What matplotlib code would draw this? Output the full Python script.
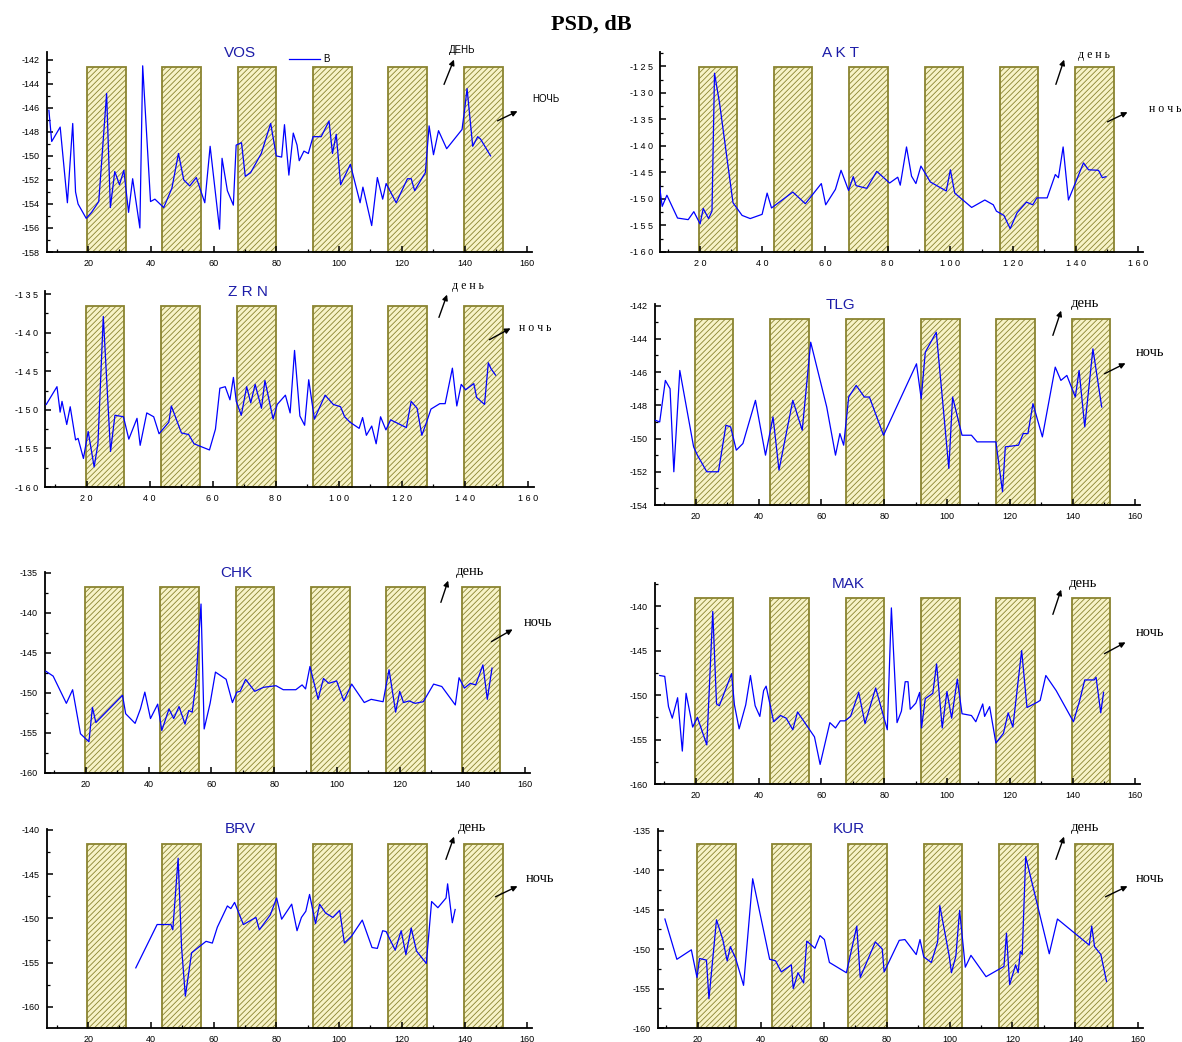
import matplotlib
matplotlib.use("Agg")
import matplotlib.pyplot as plt
from matplotlib.patches import Rectangle, FancyArrowPatch
from matplotlib.ticker import MultipleLocator, FixedLocator
import numpy as np

plt.rcParams['axes.unicode_minus'] = False
plt.rcParams['hatch.linewidth'] = 0.6

# ---------------- data ----------------
day_start = [19.7, 43.6, 67.7, 91.8, 115.7, 139.8]
day_width = 12.3

vos_x = [7.5, 8.4, 11.1, 13.4, 15.1, 16.0, 16.8, 19.4, 21.1, 23.4,
         25.9, 27.1, 28.5, 30.0, 31.4, 32.9, 34.2, 36.5, 37.4, 39.9,
         41.3, 44.1, 46.7, 48.8, 50.5, 52.4, 54.5, 57.2, 58.9, 61.9,
         62.7, 64.4, 66.3, 67.2, 68.9, 70.1, 71.8, 75.2, 78.2, 80.0,
         81.7, 82.6, 84.0, 85.4, 86.6, 87.3, 88.8, 90.2, 91.7, 94.3,
         96.8, 97.9, 99.1, 100.5, 103.6, 106.7, 107.6, 110.4, 112.2, 113.9,
         115.0, 118.2, 121.8, 123.0, 124.1, 127.0, 127.5, 128.7, 130.1, 131.7,
         134.3, 139.2, 140.0, 140.8, 142.6, 144.2, 145.1, 148.3]
vos_y = [-146.2, -148.8, -147.6, -153.9, -147.3, -153.0, -154.0, -155.2, -154.7, -153.8,
         -144.8, -154.3, -151.3, -152.4, -151.2, -154.7, -151.9, -156.0, -142.5, -153.8,
         -153.6, -154.3, -152.7, -149.8, -152.0, -152.5, -151.8, -153.9, -149.2, -156.1,
         -150.2, -152.9, -154.1, -149.1, -148.9, -151.7, -151.4, -149.8, -147.3, -150.0,
         -150.1, -147.4, -151.6, -148.1, -149.1, -150.4, -149.6, -149.8, -148.4, -148.4,
         -147.1, -149.8, -148.2, -152.4, -150.7, -153.9, -152.6, -155.8, -151.8, -153.6,
         -152.3, -153.9, -151.9, -151.9, -152.9, -151.6, -151.4, -147.5, -149.9, -147.9,
         -149.4, -147.8, -146.2, -144.4, -149.2, -148.4, -148.6, -150.0]

akt_x = [7.1, 8.0, 9.5, 12.9, 16.3, 18.1, 20.1, 21.1, 22.8, 23.9,
         24.7, 26.3, 30.6, 33.5, 36.1, 39.9, 41.5, 42.9, 49.7, 53.7,
         58.8, 60.2, 63.3, 65.1, 67.5, 69.0, 69.9, 73.3, 76.5, 80.6,
         83.2, 84.0, 86.0, 87.6, 89.0, 90.6, 93.6, 98.7, 100.0, 101.4,
         106.8, 111.0, 113.7, 114.7, 117.1, 119.1, 121.3, 124.3, 126.3, 127.6,
         130.9, 133.5, 134.5, 136.0, 137.7, 142.5, 144.1, 147.3, 148.5, 149.7]
akt_y = [-147.3, -151.4, -149.3, -153.6, -153.9, -152.4, -154.7, -151.8, -153.7, -152.3,
         -126.3, -131.9, -150.7, -153.1, -153.7, -152.9, -148.9, -151.7, -148.7, -150.9,
         -147.1, -151.1, -148.2, -144.6, -148.4, -145.8, -147.5, -148.0, -144.8, -147.0,
         -145.9, -147.4, -140.2, -145.7, -147.1, -143.8, -146.8, -148.5, -144.5, -148.9,
         -151.6, -150.2, -151.1, -152.3, -153.1, -155.6, -152.6, -150.6, -151.1, -149.8,
         -149.8, -145.4, -146.0, -140.2, -150.2, -143.2, -144.5, -144.6, -146.0, -145.8]

zrn_x = [7.2, 10.6, 11.6, 12.2, 13.7, 14.8, 16.5, 17.3, 19.0, 20.5,
         22.4, 23.6, 25.3, 27.6, 29.0, 31.7, 33.4, 36.0, 37.0, 39.1,
         41.3, 43.0, 46.1, 46.9, 50.1, 52.4, 54.1, 59.0, 60.9, 62.3,
         64.0, 65.5, 66.6, 67.5, 69.1, 70.8, 72.1, 73.5, 75.5, 76.6,
         79.2, 80.5, 83.1, 84.6, 86.0, 87.7, 89.2, 90.5, 92.3, 95.7,
         98.3, 100.6, 101.9, 103.6, 106.5, 107.6, 108.8, 110.5, 111.9, 113.3,
         115.0, 116.5, 121.5, 123.0, 124.9, 126.4, 127.9, 129.3, 132.1, 133.8,
         136.1, 137.5, 138.9, 140.3, 142.9, 143.8, 146.3, 147.5, 148.4, 149.8]
zrn_y = [-149.3, -147.0, -150.3, -148.9, -151.9, -149.6, -153.9, -153.7, -156.3, -152.8,
         -157.4, -154.4, -137.9, -155.4, -150.7, -150.9, -153.8, -151.1, -154.6, -150.4,
         -150.9, -153.1, -151.6, -149.5, -153.0, -153.2, -154.4, -155.2, -152.5, -147.2,
         -147.0, -148.7, -145.8, -148.9, -150.7, -147.0, -149.1, -146.7, -149.8, -146.2,
         -151.2, -149.3, -148.1, -150.4, -142.3, -150.8, -152.0, -146.1, -151.2, -148.1,
         -149.3, -149.6, -150.9, -151.6, -152.4, -151.0, -153.3, -152.1, -154.4, -150.9,
         -152.6, -151.3, -152.3, -148.9, -149.8, -153.3, -151.6, -149.9, -149.2, -149.2,
         -144.6, -149.5, -146.7, -147.4, -146.6, -148.4, -149.3, -143.9, -144.7, -145.5]

tlg_x = [7.1, 8.5, 10.3, 11.8, 13.0, 14.9, 19.3, 20.5, 23.5, 27.2,
         29.6, 31.1, 32.9, 35.0, 39.0, 42.2, 44.6, 46.5, 50.9, 53.9,
         56.6, 61.7, 64.5, 65.9, 67.1, 68.7, 71.1, 73.7, 75.3, 79.8,
         90.3, 91.8, 93.1, 96.6, 100.6, 101.8, 104.8, 107.8, 109.6, 115.6,
         117.7, 118.6, 122.8, 124.3, 125.8, 127.4, 130.4, 134.5, 136.3, 138.2,
         140.9, 142.1, 143.9, 146.5, 149.3]
tlg_y = [-148.9, -149.0, -146.5, -147.0, -152.0, -145.9, -150.5, -151.0, -152.0, -152.0,
         -149.2, -149.3, -150.7, -150.3, -147.7, -151.0, -148.7, -151.9, -147.7, -149.5,
         -144.2, -148.1, -151.0, -149.7, -150.4, -147.5, -146.8, -147.5, -147.5, -149.8,
         -145.5, -147.6, -144.8, -143.6, -151.8, -147.5, -149.8, -149.8, -150.2, -150.2,
         -153.2, -150.5, -150.4, -149.7, -149.7, -147.9, -149.9, -145.7, -146.5, -146.2,
         -147.5, -145.9, -149.3, -144.6, -148.1]

chk_x = [7.3, 9.6, 13.8, 15.8, 18.3, 21.0, 22.1, 23.2, 31.7, 32.7,
         35.7, 37.4, 38.8, 40.6, 42.9, 44.2, 46.5, 48.0, 49.7, 51.6,
         52.8, 53.9, 55.0, 56.7, 57.7, 59.6, 61.3, 64.7, 66.7, 68.1,
         69.2, 70.9, 73.8, 76.6, 80.6, 82.9, 86.9, 88.9, 90.0, 91.4,
         94.0, 95.7, 97.4, 99.9, 102.2, 104.7, 108.7, 110.9, 114.7, 116.6,
         118.7, 120.0, 121.2, 123.0, 124.9, 127.5, 130.8, 133.4, 137.7, 138.9,
         140.6, 142.5, 144.2, 146.5, 147.9, 149.4]
chk_y = [-147.3, -147.9, -151.3, -149.6, -155.1, -156.1, -151.8, -153.7, -150.3, -152.6,
         -153.8, -152.0, -149.9, -153.2, -151.4, -154.7, -152.0, -153.2, -151.7, -153.9,
         -152.2, -152.4, -149.0, -138.9, -154.5, -151.3, -147.4, -148.3, -151.2, -149.9,
         -149.8, -148.3, -149.8, -149.3, -149.1, -149.6, -149.6, -149.0, -149.5, -146.7,
         -150.8, -148.2, -148.8, -148.5, -151.0, -148.9, -151.2, -150.8, -151.1, -147.1,
         -152.4, -149.8, -151.2, -151.0, -151.3, -151.1, -148.9, -149.2, -151.5, -148.1,
         -149.4, -148.8, -149.0, -146.5, -150.8, -146.9]

mak_x = [8.5, 10.1, 11.3, 12.5, 14.2, 15.7, 16.9, 19.0, 20.5, 23.5,
         25.4, 26.6, 27.5, 31.4, 32.3, 33.8, 35.9, 37.4, 38.9, 40.4,
         41.6, 42.4, 44.8, 47.0, 48.8, 50.9, 52.4, 57.8, 59.6, 62.7,
         64.5, 66.0, 67.5, 69.3, 71.9, 73.9, 77.3, 81.0, 82.3, 84.1,
         85.5, 86.7, 87.6, 88.3, 90.1, 91.3, 91.9, 93.1, 95.5, 96.7,
         98.5, 100.0, 101.5, 103.3, 104.8, 107.8, 109.2, 111.4, 112.0, 113.6,
         115.6, 118.0, 119.5, 121.0, 123.8, 125.5, 128.8, 129.7, 131.5, 134.8,
         140.3, 142.3, 143.9, 146.9, 147.5, 149.0, 149.9]
mak_y = [-147.8, -147.9, -151.3, -152.6, -150.3, -156.3, -149.8, -153.6, -152.5, -155.6,
         -140.6, -151.0, -151.2, -147.6, -151.1, -153.8, -151.1, -147.8, -151.2, -152.4,
         -149.5, -149.0, -153.0, -152.3, -152.6, -153.9, -151.9, -154.7, -157.8, -153.1,
         -153.7, -152.9, -152.9, -152.4, -149.7, -153.2, -149.2, -153.9, -140.2, -153.1,
         -151.8, -148.5, -148.5, -151.6, -150.9, -149.7, -153.7, -150.4, -149.8, -146.5,
         -153.7, -149.6, -152.6, -148.2, -152.1, -152.3, -153.0, -151.0, -152.4, -151.3,
         -155.4, -154.3, -152.0, -153.6, -145.0, -151.4, -150.8, -150.6, -147.8, -149.5,
         -153.0, -150.6, -148.3, -148.3, -148.0, -152.0, -149.7]

brv_x = [35.2, 42.0, 46.4, 47.0, 48.7, 49.8, 51.0, 53.0, 57.6, 59.6,
         61.2, 64.4, 65.5, 66.7, 69.5, 73.5, 74.6, 78.1, 80.1, 81.7,
         84.9, 86.6, 88.0, 89.4, 90.6, 92.5, 93.8, 95.7, 98.0, 100.2,
         101.7, 104.0, 107.4, 110.5, 112.2, 113.9, 115.0, 117.9, 119.8, 121.3,
         123.0, 124.7, 127.8, 129.5, 131.5, 134.1, 134.6, 136.1, 137.0]
brv_y = [-155.6, -150.7, -150.7, -151.3, -143.2, -153.3, -158.8, -153.9, -152.6, -152.8,
         -151.0, -148.6, -148.9, -148.2, -150.7, -149.9, -151.3, -149.6, -147.7, -150.1,
         -148.4, -151.4, -149.9, -149.2, -147.3, -150.6, -148.4, -149.4, -149.9, -149.1,
         -152.8, -152.0, -150.2, -153.3, -153.4, -151.4, -151.5, -153.6, -151.4, -154.1,
         -151.1, -153.7, -155.1, -148.1, -148.8, -147.7, -146.1, -150.5, -149.0]

kur_x = [9.5, 13.3, 17.9, 19.7, 20.5, 22.7, 23.5, 25.9, 27.9, 29.3,
         30.3, 32.0, 34.5, 37.4, 42.8, 44.7, 46.5, 49.7, 50.3, 51.8,
         53.6, 54.6, 57.2, 58.8, 60.2, 61.8, 67.2, 70.5, 71.6, 76.4,
         78.6, 79.2, 84.0, 85.8, 89.4, 90.6, 91.8, 94.2, 96.2, 96.9,
         99.9, 100.6, 102.0, 103.2, 105.0, 106.8, 111.6, 117.3, 118.1, 119.1,
         121.0, 121.8, 122.5, 123.1, 124.2, 131.7, 134.3, 144.4, 145.2, 146.1,
         148.1, 149.9]
kur_y = [-146.2, -151.3, -150.1, -153.6, -151.2, -151.4, -156.3, -146.3, -148.8, -151.5,
         -149.7, -151.2, -154.6, -141.1, -151.3, -151.5, -152.9, -152.0, -155.0, -153.0,
         -154.3, -149.0, -149.9, -148.3, -148.8, -151.7, -153.0, -147.1, -153.6, -149.1,
         -150.0, -152.9, -148.9, -148.8, -150.7, -148.8, -151.0, -151.7, -149.1, -144.5,
         -150.9, -153.0, -150.9, -145.1, -152.3, -150.8, -153.5, -152.2, -148.0, -154.5,
         -152.0, -153.0, -150.3, -150.7, -138.3, -150.6, -146.2, -149.5, -147.1, -149.7,
         -150.7, -154.1]

x_ticks = [20, 40, 60, 80, 100, 120, 140, 160]

# ---------------- layout ----------------
W, H = 1182, 1042
fig = plt.figure(figsize=(W / 100, H / 100), dpi=100)


def fx(px):
    return px / W


def fy(py):
    return 1 - py / H


def spaced(v):
    s = str(int(v))
    neg = s.startswith('-')
    d = s.lstrip('-')
    return ('-' if neg else '') + ' '.join(d)


BLUE_T = '#1c1ca8'
SANS = ['Liberation Sans', 'DejaVu Sans']
SERIF = ['Liberation Serif', 'DejaVu Serif']

panels = [
    dict(name='VOS', x=vos_x, y=vos_y, box=(47, 52, 532, 252), xlim=(6.9, 161.5), ylim=(-158, -141.35),
         ymaj=2, sp=False, tpos=(240, 53), style='caps'),
    dict(name='A K T', x=akt_x, y=akt_y, box=(660, 52, 1143, 252), xlim=(7.3, 161.5), ylim=(-160, -122.3),
         ymaj=5, sp=True, tpos=(840, 53), style='spaced'),
    dict(name='Z R N', x=zrn_x, y=zrn_y, box=(45, 291, 534, 487), xlim=(6.8, 162), ylim=(-160, -134.6),
         ymaj=5, sp=True, tpos=(248, 292), style='spaced'),
    dict(name='TLG', x=tlg_x, y=tlg_y, box=(655, 304, 1140, 505), xlim=(7.0, 161.5), ylim=(-154, -141.9),
         ymaj=2, sp=False, tpos=(840, 305), style='serif'),
    dict(name='CHK', x=chk_x, y=chk_y, box=(45, 572, 530, 773), xlim=(7.0, 161.5), ylim=(-160, -134.9),
         ymaj=5, sp=False, tpos=(236, 573), style='serif'),
    dict(name='MAK', x=mak_x, y=mak_y, box=(655, 583, 1140, 784), xlim=(7.0, 161.5), ylim=(-160, -137.4),
         ymaj=5, sp=False, tpos=(848, 584), style='serif'),
    dict(name='BRV', x=brv_x, y=brv_y, box=(47, 829, 532, 1028), xlim=(6.9, 161.5), ylim=(-162.4, -139.9),
         ymaj=5, sp=False, tpos=(240, 829), style='serif'),
    dict(name='KUR', x=kur_x, y=kur_y, box=(658, 829, 1143, 1028), xlim=(7.3, 161.5), ylim=(-160, -134.8),
         ymaj=5, sp=False, tpos=(849, 829), style='serif'),
]

annotations = {
    'VOS': ((462, 50), (443, 87), (455, 57), (546, 99), (495, 122), (520, 110)),
    'A K T': ((1094, 55), (1055, 87), (1065, 57), (1165, 109), (1105, 123), (1130, 111)),
    'Z R N': ((468, 286), (438, 320), (448, 292), (535, 328), (487, 341), (513, 327)),
    'TLG': ((1085, 303), (1052, 338), (1062, 308), (1150, 352), (1102, 375), (1128, 362)),
    'CHK': ((470, 572), (440, 605), (449, 578), (538, 622), (489, 643), (515, 628)),
    'MAK': ((1083, 583), (1052, 617), (1062, 587), (1150, 632), (1102, 655), (1128, 641)),
    'BRV': ((472, 828), (445, 862), (455, 834), (540, 878), (493, 898), (520, 885)),
    'KUR': ((1085, 828), (1055, 862), (1065, 834), (1150, 878), (1103, 898), (1130, 885)),
}

for p in panels:
    l, t, r, b = p['box']
    ax = fig.add_axes([fx(l), fy(b), fx(r) - fx(l), (b - t) / H])
    ax.set_xlim(*p['xlim'])
    ax.set_ylim(*p['ylim'])
    for s in ('top', 'right'):
        ax.spines[s].set_visible(False)
    for s in ('left', 'bottom'):
        ax.spines[s].set_linewidth(1.3)
    ax.patch.set_alpha(0)

    for xs in day_start:
        ax.add_patch(Rectangle((xs, 0), day_width, 0.925, transform=ax.get_xaxis_transform(),
                               facecolor='#f7f3c8', edgecolor='#8a8430', hatch='//////',
                               linewidth=1.3, zorder=1, clip_on=False))
    line, = ax.plot(p['x'], p['y'], color='#0000ff', lw=0.9, zorder=3, label='B')

    ymin, ymax = p['ylim']
    m = p['ymaj']
    yt = [v for v in np.arange(np.ceil(ymin / m) * m, ymax + 0.01, m)]
    ax.yaxis.set_major_locator(FixedLocator(yt))
    ax.yaxis.set_minor_locator(MultipleLocator(m / 2))
    ax.xaxis.set_major_locator(FixedLocator(x_ticks))
    ax.xaxis.set_minor_locator(MultipleLocator(10))
    if p['sp']:
        ax.set_yticklabels([spaced(v) for v in yt])
        ax.set_xticklabels([spaced(v) for v in x_ticks])
    else:
        ax.set_yticklabels([str(int(v)) for v in yt])
        ax.set_xticklabels([str(v) for v in x_ticks])
    ax.tick_params(which='major', direction='in', length=4, width=1.1, labelsize=6.5, pad=5)
    ax.tick_params(which='minor', direction='in', length=2.5, width=0.9)
    for lab in ax.get_xticklabels() + ax.get_yticklabels():
        lab.set_fontfamily(SANS)

    fig.text(fx(p['tpos'][0]), fy(p['tpos'][1]), p['name'], color=BLUE_T, fontsize=11,
             family=SANS, ha='center', va='center')

    st = p['style']
    if st == 'caps':
        day, night, fam, fs = 'ДЕНЬ', 'НОЧЬ', SANS, 7
    elif st == 'spaced':
        day, night, fam, fs = 'д е н ь', 'н о ч ь', SERIF, 8.5
    else:
        day, night, fam, fs = 'день', 'ночь', SERIF, 10.5
    (dtx, dty), (da0x, da0y), (da1x, da1y), (ntx, nty), (na0x, na0y), (na1x, na1y) = annotations[p['name']]
    fig.text(fx(dtx), fy(dty), day, fontsize=fs, family=fam, ha='center', va='center')
    fig.text(fx(ntx), fy(nty), night, fontsize=fs, family=fam, ha='center', va='center')
    for (x0, y0, x1, y1) in ((da0x, da0y, da1x, da1y), (na0x, na0y, na1x, na1y)):
        fig.add_artist(FancyArrowPatch(
            (fx(x0), fy(y0)), (fx(x1), fy(y1)), transform=fig.transFigure,
            arrowstyle='-|>', mutation_scale=8, color='black', lw=1.0))

    if p['name'] == 'VOS':
        ax.legend(handles=[line], loc='center left', bbox_to_anchor=(fx(284), fy(59)),
                  bbox_transform=fig.transFigure, frameon=False,
                  handlelength=3.2, handletextpad=0.3, borderpad=0, prop={'family': SANS, 'size': 7})

fig.text(0.5, fy(25), 'PSD, dB', fontsize=16, fontweight='bold', family=SERIF,
         ha='center', va='center')

fig.savefig('out.png', dpi=100)
